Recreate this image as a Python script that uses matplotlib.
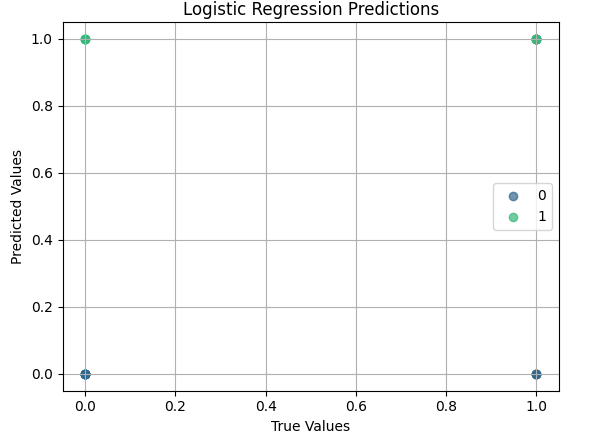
import matplotlib
matplotlib.use("Agg")
import matplotlib.pyplot as plt

# true vs predicted labels
y_true = [0, 0, 0, 0, 0, 0, 0, 0, 0, 0, 0, 0, 1, 1, 1, 1, 1, 1, 1, 1, 1, 1, 1, 1]
y_pred = [0, 0, 0, 0, 0, 0, 0, 0, 1, 1, 1, 1, 1, 1, 1, 1, 1, 1, 1, 1, 0, 0, 0, 0]
classes = [0, 1]
colors = ["#30678d", "#35b779"]

fig = plt.figure(figsize=(6.01, 4.45), dpi=100)
ax = fig.add_subplot(111)
fig.subplots_adjust(left=0.104, right=0.930, top=0.950, bottom=0.122)

for c, col in zip(classes, colors):
    xs = [t for t, p in zip(y_true, y_pred) if p == c]
    ys = [p for p in y_pred if p == c]
    ax.scatter(xs, ys, color=col, alpha=0.7, label=str(c))

ax.set_title("Logistic Regression Predictions", pad=5)
ax.set_xlabel("True Values")
ax.set_ylabel("Predicted Values")
ax.legend(loc="center right")
ax.grid(True)

fig.savefig("out.png", dpi=100)
